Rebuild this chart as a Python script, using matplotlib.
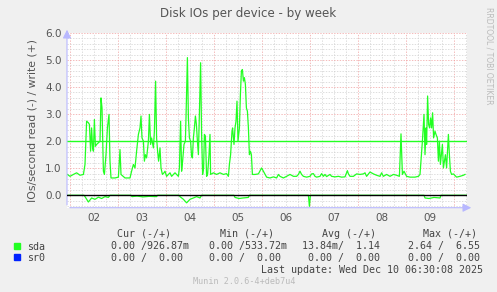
import matplotlib
matplotlib.use("Agg")
import matplotlib.pyplot as plt
from matplotlib.patches import Rectangle

# hours since the left edge of the graph (Dec 01 22:30), 400 px = 200 h
write_hours = [
    0.2, 1.5, 3.2, 4.8, 6.5, 8.2, 9.0, 9.8, 10.7, 11.2, 11.8, 12.3, 12.8, 13.2,
    13.7, 14.2, 14.8, 15.7, 16.5, 17.0, 17.5, 18.2, 18.7, 19.5, 20.2, 21.0,
    21.5, 22.0, 24.0, 25.7, 26.5, 27.0, 29.0, 31.5, 32.3, 33.2, 34.0, 34.8,
    35.7, 36.5, 37.0, 37.5, 38.2, 38.7, 39.2, 39.8, 40.7, 41.2, 41.8, 42.3,
    43.2, 43.7, 44.3, 44.8, 45.3, 45.8, 46.5, 47.0, 47.7, 48.5, 49.0, 49.8,
    50.7, 51.5, 52.3, 53.2, 54.0, 54.8, 55.7, 56.2, 56.8, 57.3, 57.8, 58.5,
    59.2, 59.5, 60.2, 60.7, 61.2, 61.8, 62.3, 62.7, 63.2, 63.7, 64.2, 64.7,
    65.2, 65.7, 66.2, 66.8, 67.3, 67.8, 68.3, 68.7, 69.2, 69.8, 70.3, 71.0,
    71.5, 71.8, 73.2, 74.8, 76.5, 78.2, 79.8, 80.7, 81.2, 81.8, 82.5, 82.8,
    83.5, 84.0, 84.5, 85.0, 85.5, 86.2, 86.7, 87.2, 87.7, 88.2, 88.7, 89.2,
    89.7, 90.2, 90.7, 91.2, 91.7, 92.2, 92.7, 94.0, 95.7, 97.3, 98.2, 99.8,
    101.5, 103.2, 104.8, 105.7, 106.5, 108.2, 109.8, 111.5, 113.2, 114.8,
    115.7, 116.5, 117.3, 118.2, 119.8, 121.5, 122.3, 123.2, 124.0, 124.8,
    126.5, 127.3, 128.2, 129.0, 129.8, 131.5, 132.3, 134.0, 135.7, 137.3,
    139.0, 140.2, 140.7, 141.5, 143.2, 144.8, 146.5, 148.2, 149.0, 149.8,
    151.5, 153.2, 154.8, 156.5, 157.3, 158.2, 159.8, 161.5, 163.2, 164.8,
    166.2, 167.0, 167.7, 168.5, 169.8, 171.5, 174.0, 175.7, 176.5, 177.0,
    177.7, 178.5, 179.0, 179.5, 179.8, 180.3, 180.8, 181.3, 181.8, 182.3,
    182.8, 183.3, 184.0, 184.5, 185.2, 185.7, 186.2, 186.7, 187.2, 187.7,
    188.2, 188.7, 189.2, 189.8, 190.7, 191.2, 191.7, 192.3, 193.2, 194.8,
    196.5, 198.2, 199.0,
]
write_ios = [
    0.77, 0.70, 0.77, 0.83, 0.74, 0.77, 1.14, 2.74, 2.68, 2.62, 1.63, 2.49, 1.75, 1.63,
    2.80, 1.81, 1.88, 1.94, 2.00, 3.60, 3.23, 0.89, 0.77, 1.50, 2.49, 2.99,
    1.26, 0.64, 0.64, 0.67, 1.69, 0.77, 0.64, 0.64, 0.89, 1.14, 1.01, 1.63,
    2.25, 2.49, 2.93, 2.12, 2.00, 1.26, 1.50, 1.38, 2.00, 2.99, 1.88, 2.12,
    1.75, 2.37, 4.22, 2.12, 1.63, 1.26, 1.75, 1.01, 0.77, 0.83, 0.89, 0.70,
    0.77, 0.83, 0.70, 0.77, 0.83, 0.77, 0.70, 1.01, 2.74, 0.89, 1.26, 1.88,
    2.00, 2.86, 5.09, 2.86, 2.12, 2.00, 1.44, 1.38, 2.12, 2.49, 2.93, 2.62,
    2.00, 1.50, 3.11, 4.90, 2.25, 0.77, 1.01, 2.25, 2.19, 0.70, 0.77, 1.50,
    2.25, 0.77, 0.83, 0.77, 0.83, 0.77, 0.80, 0.70, 1.14, 1.50, 2.37, 2.49,
    1.88, 2.49, 2.74, 3.48, 2.00, 2.49, 3.73, 4.59, 4.65, 4.22, 4.35, 4.10,
    3.23, 3.11, 2.49, 1.50, 1.63, 1.50, 0.77, 0.77, 0.79, 1.01, 0.89, 0.67,
    0.64, 0.68, 0.64, 0.77, 0.70, 0.64, 0.70, 0.77, 0.70, 0.70,
    0.77, 0.89, 0.77, 0.70, 0.67, 0.70, 0.79, 0.80, 0.70, 0.67,
    0.70, 0.80, 0.70, 0.77, 0.69, 0.77, 0.70, 0.68, 0.70, 0.67,
    0.68, 0.91, 0.79, 0.70, 0.70, 0.79, 0.77, 0.79, 0.83, 0.70,
    0.86, 0.79, 0.74, 0.70, 0.83, 0.70, 0.77, 0.70, 0.77, 0.74,
    0.70, 2.27, 0.77, 0.89, 0.70, 0.67, 0.67, 0.70, 0.77, 1.26,
    2.00, 2.99, 1.50, 2.49, 1.88, 3.67, 2.62, 2.49, 2.86, 2.49,
    3.05, 2.12, 2.37, 2.25, 2.12, 1.26, 2.00, 1.14, 1.50, 1.88,
    1.01, 1.26, 1.50, 1.01, 2.25, 1.50, 0.89, 0.77, 0.79, 0.67,
    0.70, 0.74, 0.77,
]

# reads are drawn below zero
read_hours = [0, 8.5, 9.0, 10.7, 12.3, 14.0, 15.7, 17.3, 19.0, 20.7, 21.5,
              32.0, 32.5, 35.0, 38.0, 41.0, 44.8, 45.3, 56.0, 56.5, 58.2, 59.8,
              61.5, 63.2, 64.8, 66.5, 67.3, 83.5, 84.0, 86.0, 88.0, 90.7, 91.2,
              120.7, 121.2, 121.7, 178.5, 179.0, 181.0, 183.5, 186.5, 187.0, 200]
read_ios = [0, 0, -0.05, -0.25, -0.10, -0.15, -0.07, -0.12, -0.05, -0.08, 0,
            0, -0.05, -0.03, -0.06, -0.04, -0.05, 0, 0, -0.05, -0.15, -0.28,
            -0.15, -0.10, -0.05, -0.10, 0, 0, -0.08, -0.12, -0.10, -0.08, 0,
            0, -0.41, 0, 0, -0.10, -0.12, -0.08, -0.10, 0, 0]

day_labels = ["02", "03", "04", "05", "06", "07", "08", "09"]
first_midnight = 1.5
warning_level = 2.0

legend_rows = [
    ("sda", "#22ff22", ["  0.00 /926.87m", "  0.00 /533.72m", " 13.84m/  1.14 ", "  2.64 /  6.55 "]),
    ("sr0", "#0022ff", ["  0.00 /  0.00 ", "  0.00 /  0.00 ", "  0.00 /  0.00 ", "  0.00 /  0.00 "]),
]
headers = ["Cur (-/+)", "Min (-/+)", "Avg (-/+)", "Max (-/+)"]

W, H = 497, 292


def fx(x):
    return x / W


def fy(y):
    return 1 - y / H


fig = plt.figure(figsize=(W / 100, H / 100), dpi=100, facecolor="#f0f0f0")
ax = fig.add_axes([fx(67), fy(207.7), 400 / W, 174.7 / H])
ax.set_facecolor("white")
ax.set_xlim(0, 200)
ax.set_ylim(-0.46, 6.0)

# rrdtool style dotted grid: major = pink, minor = light grey
dots = (0, (2, 2))
minor_x = [first_midnight + 6 * k for k in range(34) if first_midnight + 6 * k < 200]
for x in minor_x:
    is_major = (x - first_midnight) % 24 == 0
    ax.axvline(x, color="#f0a0a0" if is_major else "#d0d0d0", lw=0.5, ls=dots, zorder=1)
for i in range(-2, 31):
    is_major = i % 5 == 0
    ax.axhline(i * 0.2, color="#f0a0a0" if is_major else "#d0d0d0", lw=0.5, ls=dots, zorder=1)

ax.plot(write_hours, write_ios, color="#22ff22", lw=0.9, zorder=3)
ax.plot(read_hours, read_ios, color="#22ff22", lw=0.9, zorder=3)
ax.axhline(warning_level, color="#22ff22", lw=1.0, zorder=3)
ax.axhline(0, color="black", lw=1.0, zorder=4)

for s in ax.spines.values():
    s.set_visible(False)
ax.tick_params(length=0, labelsize=7.5, colors="#555555", pad=4)
ax.set_yticks([0, 1, 2, 3, 4, 5, 6])
ax.set_yticklabels(["%.1f" % v for v in range(7)])
ax.set_xticks([first_midnight + 12 + 24 * k for k in range(len(day_labels))])
ax.set_xticklabels(day_labels)
ax.set_ylabel("IOs/second read (-) / write (+)", fontsize=7.8, color="#555555", labelpad=5)

# axis lines with arrows
axis_col = "#b8b8ff"
ax.annotate("", xy=(1 + 7 / 400, 0), xytext=(0, 0), xycoords="axes fraction",
            arrowprops=dict(arrowstyle="-|>,head_length=0.5,head_width=0.25", color=axis_col, lw=0.8),
            annotation_clip=False)
ax.annotate("", xy=(0, 1 + 6 / 174.7), xytext=(0, 0), xycoords="axes fraction",
            arrowprops=dict(arrowstyle="-|>,head_length=0.5,head_width=0.25", color=axis_col, lw=0.8),
            annotation_clip=False)

fig.text(fx(248), fy(14), "Disk IOs per device - by week", ha="center", va="center",
         fontsize=8.6, color="#555555")
fig.text(fx(489), fy(56), "RRDTOOL / TOBI OETIKER", rotation=270, ha="center", va="center",
         fontsize=5.5, color="#bbbbbb")

mono = "DejaVu Sans Mono"
header_x = [116.7, 219.7, 321.7, 423]
col_x = [98.7, 197.3, 296.5, 395.7]
for hx, txt in zip(header_x, headers):
    fig.text(fx(hx), fy(237), txt, family=mono, fontsize=7.2, color="#444444", va="baseline")

for r, (name, col, vals) in enumerate(legend_rows):
    base = 249.5 + r * 11.5
    fig.patches.append(Rectangle((fx(14), fy(base - 1)), 6 / W, 6 / H, color=col,
                                 transform=fig.transFigure, figure=fig))
    fig.text(fx(26.7), fy(base), name, family=mono, fontsize=7.2, color="#444444", va="baseline")
    for cx, v in zip(col_x, vals):
        fig.text(fx(cx), fy(base), v, family=mono, fontsize=7.2, color="#444444", va="baseline")

fig.text(fx(483.3), fy(273), "Last update: Wed Dec 10 06:30:08 2025", family=mono,
         fontsize=7.2, color="#444444", ha="right", va="baseline")
fig.text(fx(193.3), fy(284.5), "Munin 2.0.6-4+deb7u4", family=mono,
         fontsize=6.1, color="#bbbbbb", va="baseline")

fig.savefig("out.png", dpi=100, facecolor=fig.get_facecolor())
